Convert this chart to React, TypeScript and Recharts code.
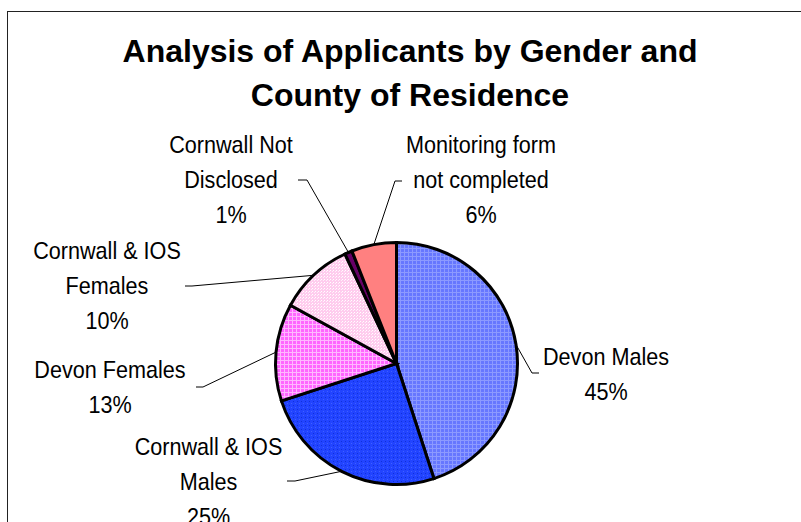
import React from 'react';
import { PieChart, Pie, Cell } from 'recharts';

const categories = [
  'Devon Males',
  'Cornwall & IOS Males',
  'Devon Females',
  'Cornwall & IOS Females',
  'Cornwall Not Disclosed',
  'Monitoring form not completed',
];
const shares = [45, 25, 13, 10, 1, 6];
const labelText = [
  ['Devon Males'],
  ['Cornwall & IOS', 'Males'],
  ['Devon Females'],
  ['Cornwall & IOS', 'Females'],
  ['Cornwall Not', 'Disclosed'],
  ['Monitoring form', 'not completed'],
];

// label block centre, leader elbow and leader end, relative to the pie centre
const labelLayout = [
  { tx: 209.5, ty: 10, ex: 135.5, ey: 9.5, lx: 142.5 },
  { tx: -188, ty: 117.5, ex: -101.5, ey: 117.5, lx: -109.5 },
  { tx: -286.5, ty: 23.5, ex: -193.5, ey: 23.5, lx: -200.5 },
  { tx: -289.5, ty: -78.5, ex: -204.5, ey: -77.5, lx: -211.5 },
  { tx: -165.5, ty: -184.5, ex: -89.5, ey: -183.5, lx: -98.5 },
  { tx: 84.5, ty: -184.5, ex: -1.5, ey: -182.5, lx: 5.5 },
];

const data = categories.map((name, i) => ({ name, value: shares[i] }));
const fills = ['url(#pDevM)', 'url(#pCorM)', 'url(#pDevF)', 'url(#pCorF)', '#660066', '#FF8080'];

const RAD = Math.PI / 180;
const LINE_H = 35;

const renderLabel = (props: any) => {
  const { cx, cy, midAngle, outerRadius, index } = props;
  const px = cx + outerRadius * Math.cos(-midAngle * RAD);
  const py = cy + outerRadius * Math.sin(-midAngle * RAD);
  const l = labelLayout[index];
  const lines = [...labelText[index], `${shares[index]}%`];
  const top = cy + l.ty - ((lines.length - 1) * LINE_H) / 2;
  return (
    <g key={`lbl-${index}`}>
      <polyline
        points={`${px},${py} ${cx + l.ex},${cy + l.ey} ${cx + l.lx},${cy + l.ey}`}
        fill="none"
        stroke="#000"
        strokeWidth={1}
      />
      {lines.map((t, j) => (
        <text
          key={j}
          transform={`translate(${cx + l.tx}, ${top + j * LINE_H + 8.5}) scale(0.9, 1)`}
          textAnchor="middle"
          fontFamily="'Liberation Sans', Arial, sans-serif"
          fontSize={24}
          fill="#000"
        >
          {t}
        </text>
      ))}
    </g>
  );
};

export default function App() {
  return (
    <div style={{ position: 'absolute', left: 0, top: 0, width: 801, height: 522, overflow: 'hidden', background: '#fff' }}>
      <div
        style={{
          position: 'absolute',
          left: 7,
          top: 11,
          width: 1000,
          height: 1000,
          border: '1.5px solid #222',
        }}
      />
      <div
        style={{
          position: 'absolute',
          left: 10,
          top: 29,
          width: 800,
          textAlign: 'center',
          fontFamily: "'Liberation Sans', Arial, sans-serif",
          fontWeight: 'bold',
          fontSize: 32,
          lineHeight: '44px',
        }}
      >
        Analysis of Applicants by Gender and
        <br />
        County of Residence
      </div>
      <div style={{ position: 'absolute', left: 0, top: 0 }}>
        <PieChart width={801} height={522} margin={{ top: 0, right: 0, bottom: 0, left: 0 }}>
          <defs>
            <pattern id="pDevM" width="4" height="4" patternUnits="userSpaceOnUse">
              <rect width="4" height="4" fill="#6677FF" />
              <rect width="4" height="1" fill="#8C9AFF" />
              <rect width="1" height="4" fill="#8C9AFF" />
            </pattern>
            <pattern id="pCorM" width="4" height="4" patternUnits="userSpaceOnUse">
              <rect width="4" height="4" fill="#2244FF" />
              <rect x="1" y="1" width="1" height="1" fill="#1030D8" />
              <rect x="3" y="3" width="1" height="1" fill="#4060FF" />
            </pattern>
            <pattern id="pDevF" width="4" height="4" patternUnits="userSpaceOnUse">
              <rect width="4" height="4" fill="#FF66FF" />
              <rect width="4" height="1" fill="#FFB8FF" />
              <rect width="1" height="4" fill="#FFB8FF" />
            </pattern>
            <pattern id="pCorF" width="3" height="3" patternUnits="userSpaceOnUse">
              <rect width="3" height="3" fill="#FFCCEE" />
              <rect x="0" y="0" width="1" height="1" fill="#FFFFFF" />
              <rect x="2" y="1" width="1" height="1" fill="#FFF0FA" />
            </pattern>
          </defs>
          <Pie
            data={data}
            dataKey="value"
            nameKey="name"
            cx={396.5}
            cy={363.5}
            outerRadius={121}
            startAngle={90}
            endAngle={-270}
            stroke="#000"
            strokeWidth={3}
            label={renderLabel}
            labelLine={false}
            isAnimationActive={false}
          >
            {data.map((d, i) => (
              <Cell key={d.name} fill={fills[i]} />
            ))}
          </Pie>
        </PieChart>
      </div>
    </div>
  );
}
